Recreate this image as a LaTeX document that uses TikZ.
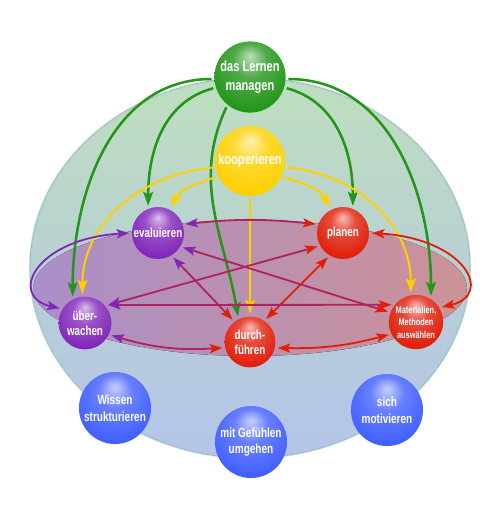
\documentclass[tikz,border=0pt]{standalone}
\usepackage{fontspec}
\newfontfamily\kugelschrift{Liberation Sans}[FakeStretch=0.75]
\usepackage{tikz}
\usetikzlibrary{arrows.meta, backgrounds}
\definecolor{gruen}{RGB}{35,150,25}
\definecolor{gelb}{RGB}{255,208,0}
\definecolor{lila}{RGB}{128,38,185}
\definecolor{rot}{RGB}{225,30,10}
\definecolor{blau}{RGB}{65,95,255}
\definecolor{kugeloben}{RGB}{190,223,190}
\definecolor{kugelmitte}{RGB}{184,208,212}
\definecolor{kugelunten}{RGB}{180,196,234}
\definecolor{kugelrand}{RGB}{165,200,206}
\definecolor{bandlinks}{RGB}{170,143,200}
\definecolor{bandrechts}{RGB}{204,146,150}
\colorlet{kugelfarbe}{red}
\pgfdeclareradialshading[kugelfarbe]{kugel}{\pgfpoint{0bp}{15bp}}{color(0bp)=(kugelfarbe!30!white); color(12bp)=(kugelfarbe!80!white); color(30bp)=(kugelfarbe); color(50bp)=(kugelfarbe!82!black)}
\tikzset{
    kugel/.style={circle, /utils/exec={\colorlet{kugelfarbe}{#1}}, shade, shading=kugel, text=white, align=center, inner sep=0pt, outer sep=2pt},
    kugel_gross/.style={kugel=#1, minimum size=1.78cm, font=\kugelschrift\bfseries\fontsize{10.5}{13.5}\selectfont},
    kugel_klein/.style={kugel=#1, minimum size=1.3cm, font=\kugelschrift\bfseries\fontsize{9.3}{10.6}\selectfont},
    kugel_blau/.style={kugel=blau, minimum size=1.8cm, font=\kugelschrift\bfseries\fontsize{9.5}{11.8}\selectfont},
    pfeil_gruen/.style={draw=gruen, line width=1.8pt, -{Stealth[length=10pt, width=7pt, inset=2pt]}},
    pfeil_gelb/.style={draw=gelb, line width=1.4pt, -{Stealth[length=10pt, width=7pt, inset=2pt]}},
    pfeil_doppel/.style 2 args={draw=#1!50!#2, line width=1.3pt, arrows={Stealth[length=9pt, width=6.5pt, inset=2pt, color=#1]-Stealth[length=9pt, width=6.5pt, inset=2pt, color=#2]}}
}
\begin{document}
\begin{tikzpicture}[x=0.025cm, y=0.025cm]
    \useasboundingbox (0,0) rectangle (500,521);

    \node[kugel_gross=gruen] (lernen) at (250,444) {das Lernen\\managen};
    \node[kugel_gross=gelb, minimum size=1.75cm] (koop) at (250,360) {kooperieren};
    \node[kugel_klein=lila] (eval) at (158,288) {evaluieren};
    \node[kugel_klein=rot] (plan) at (343,288) {planen};
    \node[kugel_klein=lila, minimum size=1.32cm] (ueber) at (85,198) {über-\\wachen};
    \node[kugel_klein=rot, minimum size=1.27cm] (durch) at (250,179) {durch-\\führen};
    \node[kugel_klein=rot, minimum size=1.36cm, font=\kugelschrift\bfseries\fontsize{7}{8.9}\selectfont] (mat) at (416,199) {Materialien,\\Methoden\\auswählen};
    \node[kugel_blau] (wissen) at (115,113) {Wissen\\strukturieren};
    \node[kugel_blau] (gefuehl) at (251,79) {mit Gefühlen\\umgehen};
    \node[kugel_blau] (motiv) at (387,111) {sich\\motivieren};

    \begin{scope}[on background layer]
        \fill[white] (0,0) rectangle (500,521);
        \fill[top color=kugeloben, bottom color=kugelunten, middle color=kugelmitte] (250,253) ellipse [x radius=5.5cm, y radius=4.75cm];
        \draw[kugelrand, line width=1.5pt, opacity=0.6] (250,253) ellipse [x radius=5.5cm, y radius=4.75cm];
        \fill[left color=bandlinks, right color=bandrechts] (250,233) ellipse [x radius=5.42cm, y radius=1.7cm];
    \end{scope}

    % das Lernen managen
    \draw[pfeil_gruen] (lernen.183) to[out=180, in=90] (ueber.115);
    \draw[pfeil_gruen] (lernen.197) to[out=195, in=90] (eval.110);
    \draw[pfeil_gruen] (lernen.232) to[out=245, in=100] (durch.115);
    \draw[pfeil_gruen] (lernen.-17) to[out=-15, in=90] (plan.70);
    \draw[pfeil_gruen] (lernen.-3) to[out=0, in=90] (mat.60);

    % kooperieren
    \draw[pfeil_gelb] (koop.190) to[out=185, in=90] (ueber.95);
    \draw[pfeil_gelb] (koop.205) to[out=200, in=65] (eval.62);
    \draw[pfeil_gelb] (koop.south) -- (durch.north);
    \draw[pfeil_gelb] (koop.-25) to[out=-20, in=115] (plan.118);
    \draw[pfeil_gelb] (koop.-10) to[out=-5, in=90] (mat.100);

    % Kreis und Stern
    \draw[pfeil_doppel={lila}{rot}] (eval.18) to[bend left=6] (plan.162);
    \draw[pfeil_doppel={lila}{lila}] (eval.180) .. controls +(-94,-6) and +(-52,12) .. (ueber.150);
    \draw[pfeil_doppel={rot}{rot}] (plan.0) .. controls +(94,-6) and +(52,12) .. (mat.30);
    \draw[pfeil_doppel={lila}{rot}] (ueber.-25) to[bend right=10] (durch.192);
    \draw[pfeil_doppel={rot}{rot}] (durch.-12) to[bend right=8] (mat.205);
    \draw[pfeil_doppel={lila}{rot}] (eval.-58) -- (durch.128);
    \draw[pfeil_doppel={rot}{rot}] (plan.-122) -- (durch.55);
    \draw[pfeil_doppel={lila}{rot}] (eval.-30) -- (mat.160);
    \draw[pfeil_doppel={lila}{rot}] (ueber.38) -- (mat.145);
    \draw[pfeil_doppel={lila}{rot}] (ueber.38) -- (plan.208);
\end{tikzpicture}
\end{document}
